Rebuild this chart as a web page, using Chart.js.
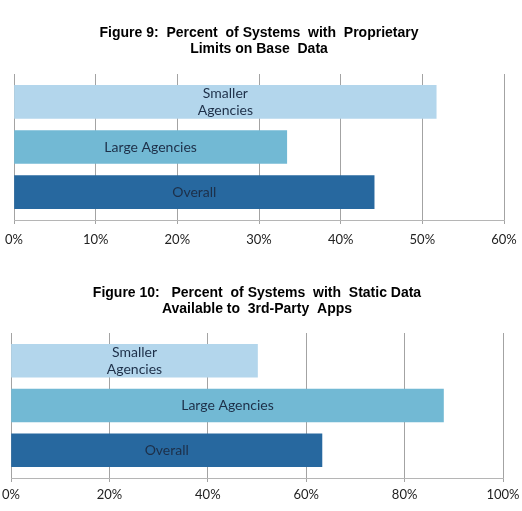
<!DOCTYPE html>
<html>
<head>
<meta charset="utf-8">
<script src="https://cdn.jsdelivr.net/npm/chart.js@4"></script>
<style>
  body { margin: 0; background: #fff; }
  #wrap1 { position: absolute; left: 0; top: 0; }
  #wrap2 { position: absolute; left: 0; top: 260px; }
</style>
</head>
<body>
<div id="wrap1"><canvas id="chart9" width="522" height="260"></canvas></div>
<div id="wrap2"><canvas id="chart10" width="522" height="251"></canvas></div>
<script>
// categories, top to bottom
var categories = [['Smaller', 'Agencies'], 'Large Agencies', 'Overall'];
var barColors = ['#b3d6ec', '#72b9d4', '#27689f'];

// Figure 9 - percent with proprietary limits on base data
var fig9Title = ['Figure 9:  Percent  of Systems  with  Proprietary', 'Limits on Base  Data'];
var fig9Values = [51.7, 33.4, 44.1];
var fig9Ticks = { min: 0, max: 60, step: 10 };

// Figure 10 - percent with static data available to 3rd-party apps
var fig10Title = ['Figure 10:   Percent  of Systems  with  Static Data', 'Available to  3rd-Party  Apps'];
var fig10Values = [50.1, 87.9, 63.2];
var fig10Ticks = { min: 0, max: 100, step: 20 };

// writes the category name in the middle of each bar
const barLabels = {
  id: 'barLabels',
  afterDatasetsDraw: function(chart) {
    var ctx = chart.ctx;
    var meta = chart.getDatasetMeta(0);
    ctx.save();
    ctx.font = '14px Lato';
    ctx.fillStyle = '#1d2f48';
    ctx.textAlign = 'center';
    ctx.textBaseline = 'middle';
    meta.data.forEach(function(bar, i) {
      var lines = [].concat(categories[i]);
      var cx = (bar.base + bar.x) / 2;
      for (var j = 0; j < lines.length; j++) {
        ctx.fillText(lines[j], cx, bar.y + (j - (lines.length - 1) / 2) * 17);
      }
    });
    ctx.restore();
  }
};

function makeChart(id, title, values, ticks, pad) {
  var points = [];
  for (var i = 0; i < values.length; i++) {
    points.push({ x: values[i], y: i });
  }
  return new Chart(document.getElementById(id), {
    type: 'bar',
    data: {
      datasets: [{
        data: points,
        backgroundColor: barColors,
        barThickness: 33,
        borderWidth: 0
      }]
    },
    options: {
      indexAxis: 'y',
      responsive: false,
      animation: false,
      events: [],
      layout: {
        padding: { left: pad.left, right: pad.right, top: 0, bottom: pad.bottom }
      },
      plugins: {
        legend: { display: false },
        tooltip: { enabled: false },
        title: {
          display: true,
          text: title,
          color: '#000',
          font: { family: 'Liberation Sans', size: 14, weight: 'bold', lineHeight: 1.15 },
          padding: { top: 25, bottom: pad.titleBottom }
        }
      },
      scales: {
        y: {
          type: 'linear',
          display: false,
          reverse: true,
          bounds: 'data',
          offset: false,
          min: -0.62,
          max: 2.62
        },
        x: {
          min: ticks.min,
          max: ticks.max,
          grid: {
            color: '#a3a3a3',
            lineWidth: 1,
            tickLength: 4,
            drawTicks: true
          },
          border: { color: '#b5b5b5' },
          ticks: {
            stepSize: ticks.step,
            padding: 0,
            color: '#222',
            // tall line box pushes the labels down without widening the side padding
            font: { family: 'Lato', size: 13, lineHeight: pad.tickLine },
            callback: function(v) { return v + '%'; }
          }
        }
      }
    },
    plugins: [barLabels]
  });
}

makeChart('chart9', fig9Title, fig9Values, fig9Ticks,
  { left: 14, right: 18, bottom: 4, titleBottom: 16.8, tickLine: '32px' });
makeChart('chart10', fig10Title, fig10Values, fig10Ticks,
  { left: 11, right: 19, bottom: 3, titleBottom: 15.8, tickLine: '26px' });
</script>
</body>
</html>
